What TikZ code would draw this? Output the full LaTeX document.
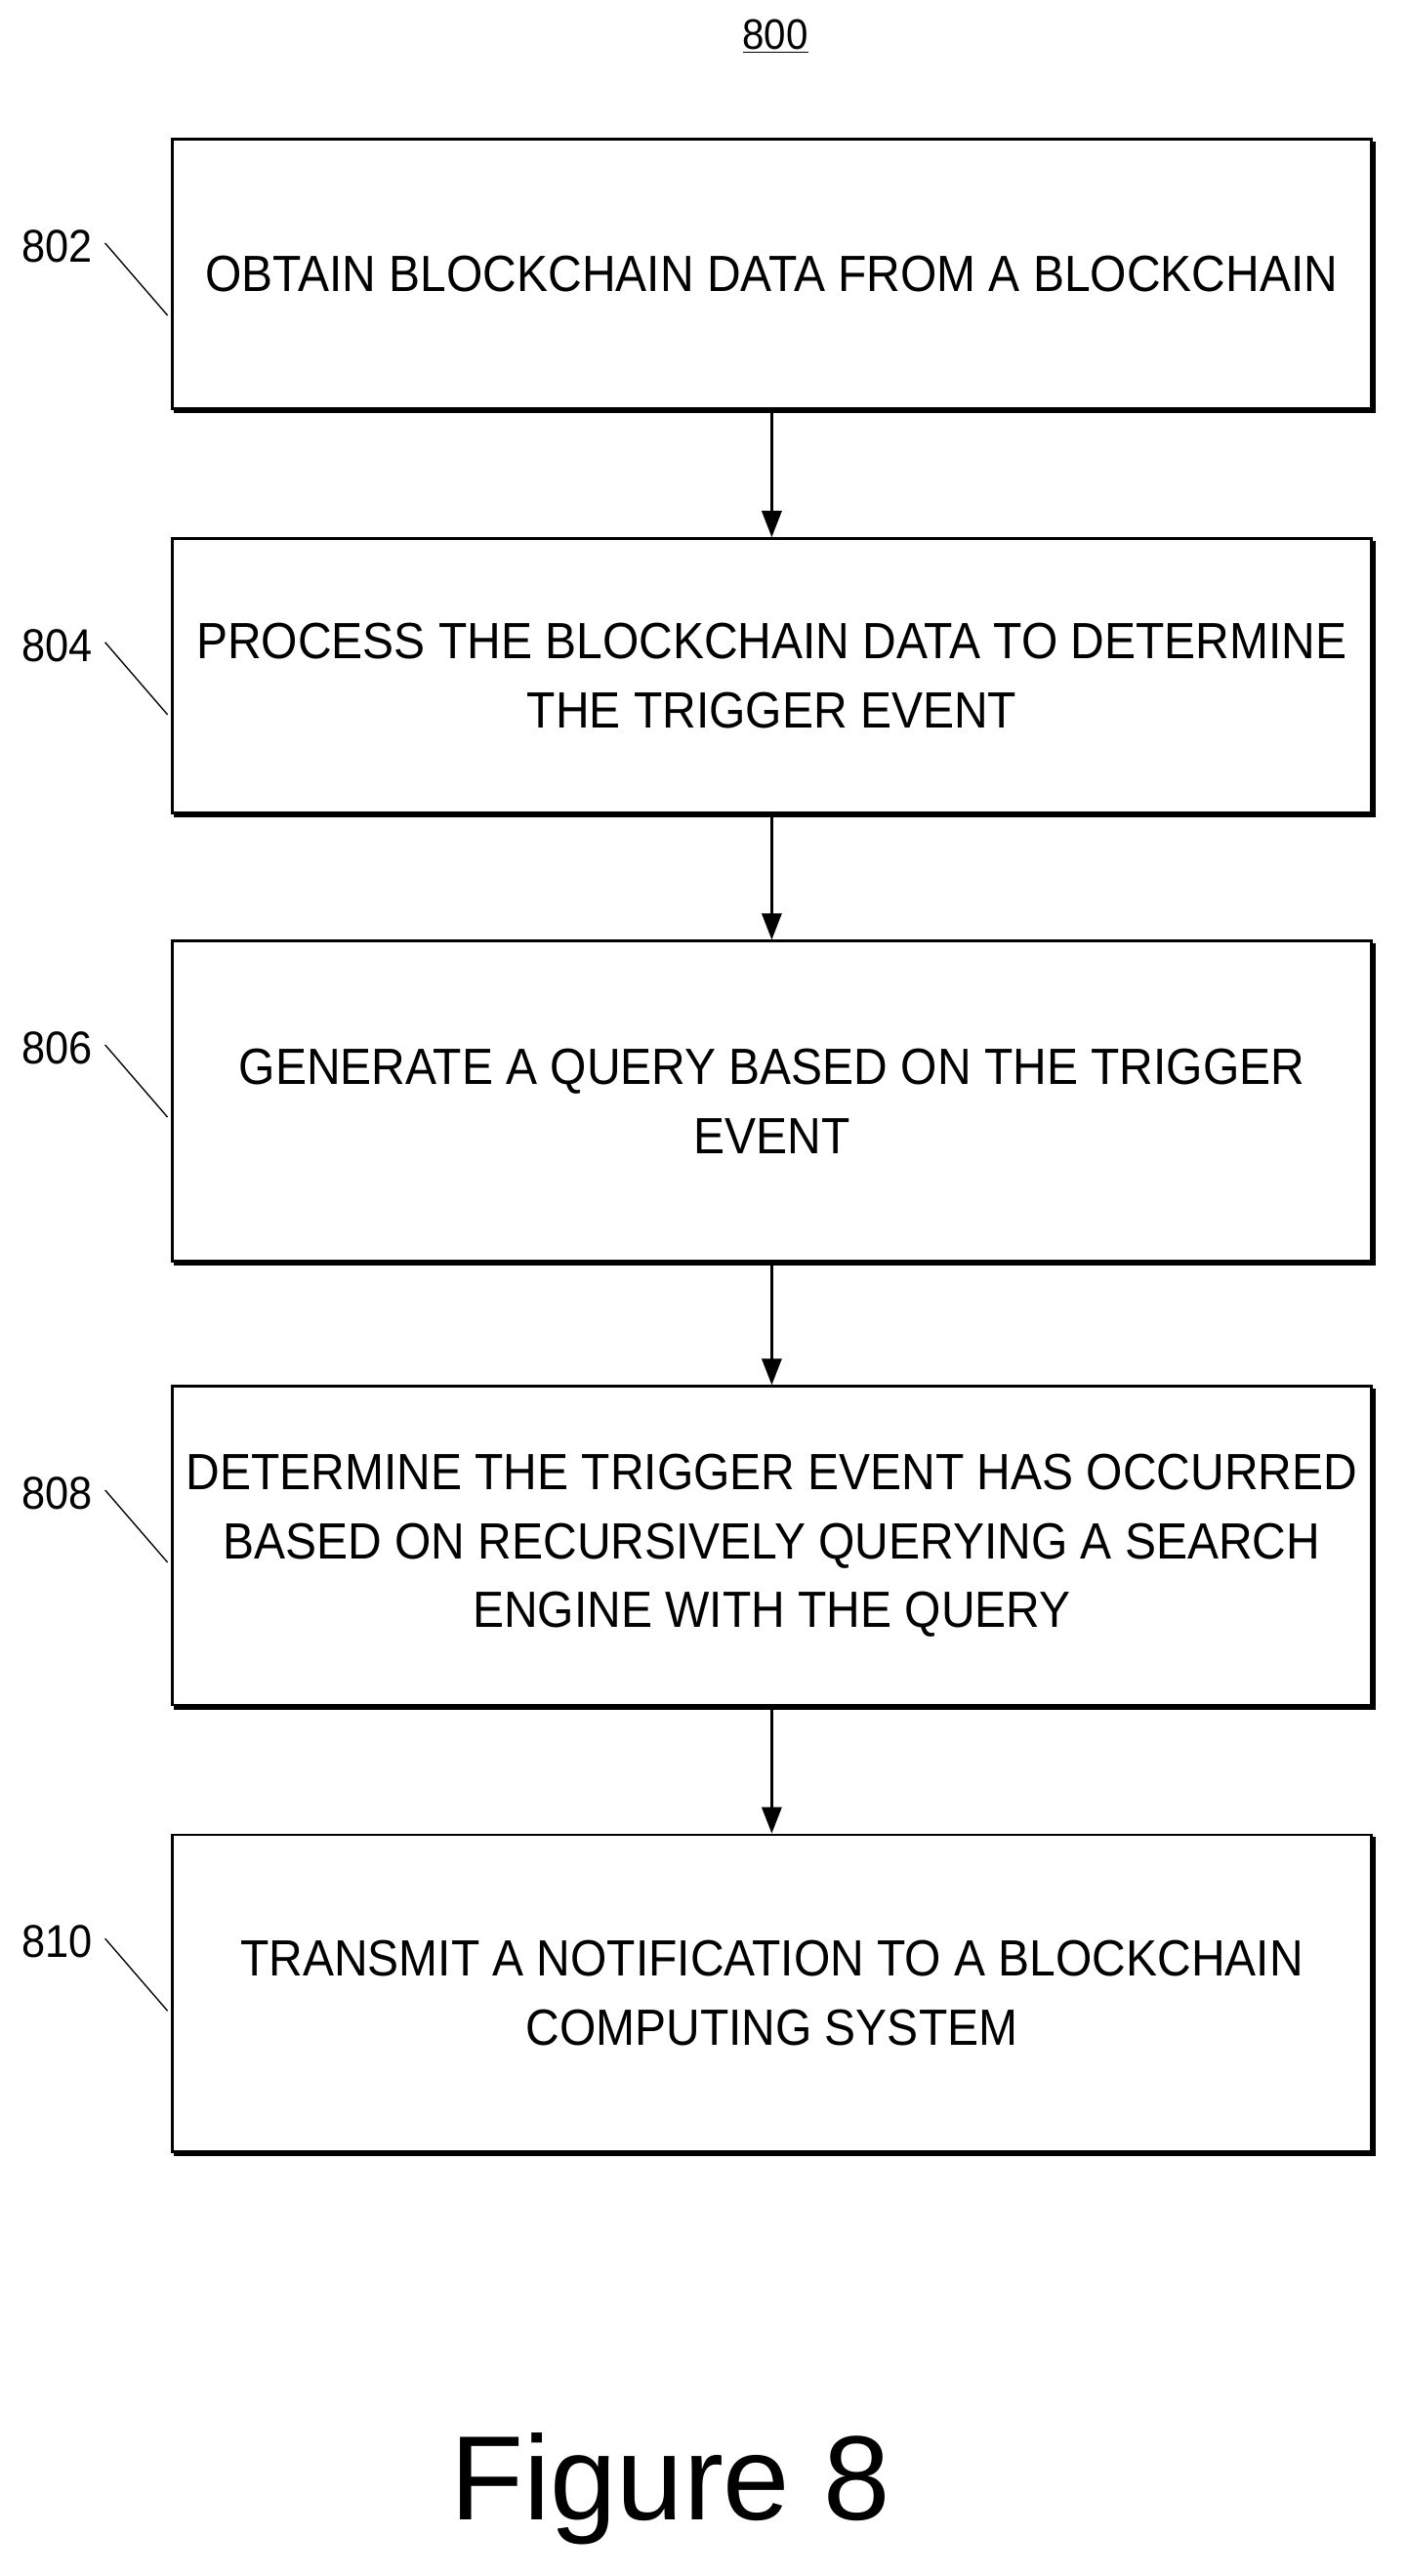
\documentclass[tikz,border=0pt]{standalone}
\usepackage{fontspec}
\setmainfont{Liberation Sans}
\newfontfamily\narrowf{Liberation Sans}[FakeStretch=0.92]
\usetikzlibrary{arrows.meta}
\begin{document}
\begin{tikzpicture}[x=1pt,y=-1pt,
 box/.style={draw,line width=1.6pt,minimum width=730pt,anchor=north west,inner sep=0pt,align=center,
   font=\narrowf\fontsize{31}{42}\selectfont},
 shad/.style={line width=3pt},
 arr/.style={line width=1.6pt,-{Triangle[length=16pt,width=12pt]}},
 lab/.style={font=\narrowf\fontsize{28}{30}\selectfont},
 lead/.style={line width=0.8pt}]
\useasboundingbox (0,0) rectangle (856,1568);
\node[font=\narrowf\fontsize{26}{28}\selectfont] (t) at (472,22) {\underline{800}};
\foreach \n/\ya/\yb/\txt in {
 802/84/248/{OBTAIN BLOCKCHAIN DATA FROM A BLOCKCHAIN},
 804/327/494/{PROCESS THE BLOCKCHAIN DATA TO DETERMINE\\THE TRIGGER EVENT},
 806/572/767/{GENERATE A QUERY BASED ON THE TRIGGER\\EVENT},
 808/843/1037/{DETERMINE THE TRIGGER EVENT HAS OCCURRED\\BASED ON RECURSIVELY QUERYING A SEARCH\\ENGINE WITH THE QUERY},
 810/1116/1309/{TRANSMIT A NOTIFICATION TO A BLOCKCHAIN\\COMPUTING SYSTEM}}{
 \draw[shad] (106,\yb+2) -- (836,\yb+2) -- (836,\ya+2);
 \node[box,minimum height=\yb-\ya] (b\n) at (104,\ya) {\txt};
 \node[lab] (l\n) at (35,\ya+66) {\n};
 \draw[lead] (64,\ya+64) -- (102,\ya+108);
}
\foreach \a/\b in {802/804,804/806,806/808,808/810}
 \draw[arr] (b\a.south) -- (b\b.north);
\node[font=\fontsize{73}{80}\selectfont] (fig) at (408,1515) {Figure 8};
\end{tikzpicture}
\end{document}
